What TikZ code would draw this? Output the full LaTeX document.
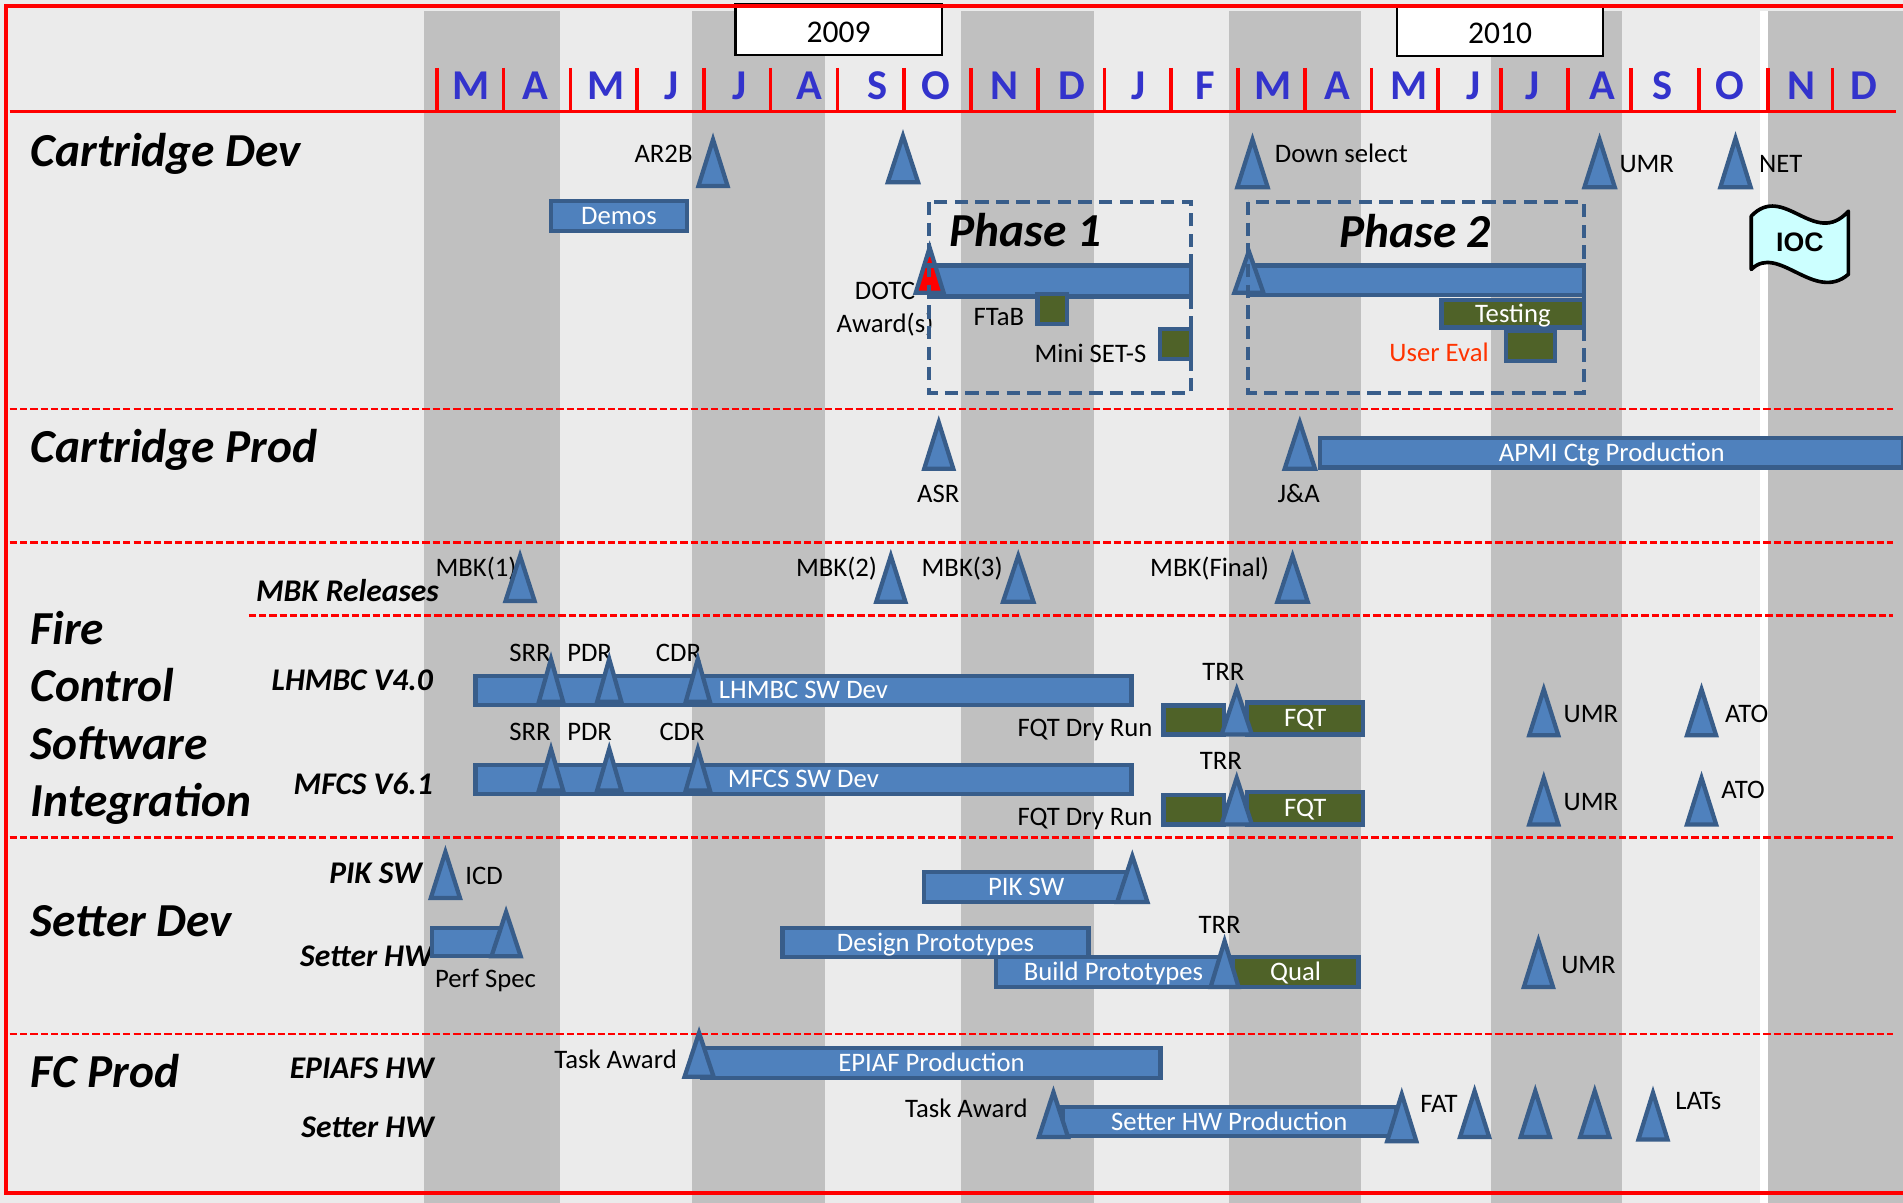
\documentclass[tikz,border=0pt]{standalone}
\usepackage{fontspec}
\setmainfont{Carlito}
\newfontfamily\arialf{Liberation Sans}
\definecolor{bgl}{HTML}{EBEBEB}
\definecolor{bgd}{HTML}{C0C0C0}
\definecolor{bfill}{HTML}{4F81BD}
\definecolor{bline}{HTML}{385D8A}
\definecolor{gfill}{HTML}{4F6228}
\definecolor{mblue}{HTML}{3333CC}
\definecolor{iocfill}{HTML}{CCFFFF}
\definecolor{ueval}{HTML}{FF3300}
\tikzset{
 bluebar/.style={draw=bline, fill=bfill, line width=1.75pt, text=white, font=\fontsize{11}{13}\selectfont, inner sep=0pt, rectangle, text height=7pt, text depth=0pt},
 greenbar/.style={bluebar, fill=gfill},
 tri/.style={draw=bline, fill=bfill, line width=1.75pt, line join=miter},
 lab/.style={inner sep=0pt, font=\fontsize{11}{13}\selectfont},
 rowlab/.style={inner sep=0pt, font=\fontsize{13}{15}\selectfont\bfseries\itshape},
 sect/.style={inner sep=0pt, anchor=base west, font=\fontsize{19.5}{23}\selectfont\bfseries\itshape},
 month/.style={inner sep=0pt, anchor=base, text=mblue, font=\fontsize{17.5}{20}\selectfont\bfseries},
 yearbox/.style={draw=black, fill=white, line width=1pt, inner sep=0pt},
 reddash/.style={red, line width=1pt, dash pattern=on 3pt off 1.25pt},
 phasebox/.style={draw=bline, line width=1.65pt, dash pattern=on 5.5pt off 3pt},
}
% bar node: [style]{name}{x1}{y1}{x2}{y2}{text}
\newcommand\gbar[7][bluebar]{%
 \node[#1, minimum width={(#5-#3-3.5)*0.5pt}, minimum height={(#6-#4-3.5)*0.5pt}] (#2) at ({(#3+#5)/2},{(#4+#6)/2}) {#7};}
% triangle: [style]{cx}{top}{bottom}{halfwidth}
\newcommand\mtri[5][tri]{%
 \draw[#1] ({#2-#5+2.5},{#4-1.75}) -- ({#2},{#3+5}) -- ({#2+#5-2.5},{#4-1.75}) -- cycle;}
\begin{document}
\begin{tikzpicture}[x=0.5pt,y=-0.5pt]
\useasboundingbox (0,0) rectangle (1568,991);
% background and bands
\fill[bgl] (0,0) rectangle (1568,991);
\foreach \a/\b in {349.6/461.8, 570/680, 792/901, 1013/1121, 1228.6/1336.6, 1457/1568}
  \fill[bgd] (\a,9) rectangle (\b,991);
\fill[white] (1450,9) rectangle (1457,991);
% year boxes
\node[yearbox, minimum width=85pt, minimum height=21pt] (box2009) at (691,24.5) {};
\node[yearbox, minimum width=85pt, minimum height=21pt] (box2010) at (1236,25) {};
\node[inner sep=0pt, anchor=base, font=\fontsize{13}{15}\selectfont] (t2009) at (691,35) {2009};
\node[inner sep=0pt, anchor=base, font=\fontsize{13}{15}\selectfont] (t2010) at (1236,36) {2010};
% red frame and lines
\draw[red, line width=2pt] (1568,5) -- (5,5) -- (5,983) -- (1568,983);
\draw[red, line width=1.5pt] (8,92) -- (1562,92);
\foreach \x in {360,415,470,525,580,635,690,745,800,855,910,965,1020,1075,1130,1185,1237,1292,1344,1400,1457,1510}
  \draw[red, line width=1.5pt] (\x,56) -- (\x,92);
\foreach \x/\l [count=\i] in {388/M,441/A,499/M,553/J,609/J,667/A,723/S,771/O,828/N,883/D,938/J,993/F,1049/M,1102/A,1161/M,1214/J,1263/J,1320/A,1370/S,1425/O,1484/N,1536/D}
  \node[month] (m\i) at (\x,82) {\l};
\draw[reddash] (8,337) -- (1560,337);
\draw[reddash] (8,447) -- (1560,447);
\draw[reddash] (205,507) -- (1560,507);
\draw[reddash] (8,690) -- (1560,690);
\draw[reddash] (8,852) -- (1560,852);
% section titles
\node[sect] (sCD) at (25,137) {Cartridge Dev};
\node[sect] (sCP) at (25,381) {Cartridge Prod};
\node[sect] (sF1) at (25,531) {Fire};
\node[sect] (sF2) at (25,578) {Control};
\node[sect] (sF3) at (25,626) {Software};
\node[sect] (sF4) at (25,673) {Integration};
\node[sect] (sSD) at (25,772) {Setter Dev};
\node[sect] (sFC) at (25,896) {FC Prod};
% row labels
\node[rowlab, anchor=base east] (rMBK) at (362,496) {MBK Releases};
\node[rowlab, anchor=base east] (rLH) at (357,569) {LHMBC V4.0};
\node[rowlab, anchor=base east] (rMF) at (357,655) {MFCS V6.1};
\node[rowlab, anchor=base east] (rPIK) at (348,728) {PIK SW};
\node[rowlab, anchor=base east] (rSHW) at (357,796) {Setter HW};
\node[rowlab, anchor=base east] (rEP) at (358,889) {EPIAFS HW};
\node[rowlab, anchor=base east] (rSHW2) at (358,937) {Setter HW};
% bars
\gbar{demos}{452}{164}{568}{192}{Demos}
\gbar{ph1bar}{764}{217}{983}{246}{}
\gbar{ph2bar}{1027}{217}{1307}{245}{}
\gbar[greenbar]{ftab}{853}{240.5}{881}{268.5}{}
\gbar[greenbar]{miniset}{954}{269.6}{983}{297.5}{}
\gbar[greenbar]{testing}{1186}{245.6}{1307}{271.5}{Testing}
\gbar[greenbar]{ueval}{1239}{271}{1283}{299}{}
\gbar{apmi}{1086}{359}{1570}{387}{APMI Ctg Production}
\gbar{lhmbc}{390}{555}{934}{582.6}{LHMBC SW Dev}
\gbar{mfcs}{390}{628.4}{934}{656}{MFCS SW Dev}
\gbar[greenbar]{dry1}{957}{579.5}{1010}{607}{}
\gbar[greenbar]{fqt1}{1026}{577}{1125}{607}{FQT}
\gbar[greenbar]{dry2}{957}{653}{1010}{681}{}
\gbar[greenbar]{fqt2}{1026}{651}{1125}{681}{FQT}
\gbar{piksw}{759.5}{717}{931.6}{745}{PIK SW}
\gbar{shw}{354}{762.8}{416}{789.6}{}
\gbar{design}{643}{762.8}{898.6}{790.5}{Design Prototypes}
\gbar{build}{819}{787}{1016}{815}{Build Prototypes}
\gbar[greenbar]{qual}{1014}{787}{1121}{815}{Qual}
\gbar{epiaf}{577}{862}{958}{890}{EPIAF Production}
\gbar{shwprod}{873.6}{910.6}{1152}{937.7}{Setter HW Production}
% labels
\node[lab, anchor=base east] (lAR2B) at (571,134) {AR2B};
\node[lab, anchor=base west] (lDown) at (1050,134) {Down select};
\node[lab, anchor=base west] (lUMRa) at (1334,142) {UMR};
\node[lab, anchor=base west] (lNET) at (1449,142) {NET};
\node[lab, anchor=base west] (lDOTC) at (704,247) {DOTC};
\node[lab, anchor=base west] (lAward) at (689,274) {Award(s)};
\node[lab, anchor=base] (lFTaB) at (823,268) {FTaB};
\node[lab, anchor=base east] (lMini) at (945,299) {Mini SET-S};
\node[lab, anchor=base east, text=ueval] (lUser) at (1227,298) {User Eval};
\node[lab, anchor=base] (lASR) at (773,414) {ASR};
\node[lab, anchor=base] (lJA) at (1070,414) {J\&A};
\node[lab, anchor=base east] (lMBK1) at (426,475) {MBK(1)};
\node[lab, anchor=base east] (lMBK2) at (723,475) {MBK(2)};
\node[lab, anchor=base west] (lMBK3) at (759,475) {MBK(3)};
\node[lab, anchor=base east] (lMBKF) at (1046,475) {MBK(Final)};
\node[lab, anchor=base east] (lSRR1) at (454,545) {SRR};
\node[lab, anchor=base west] (lPDR1) at (467,545) {PDR};
\node[lab, anchor=base west] (lCDR1) at (540,545) {CDR};
\node[lab, anchor=base east] (lSRR2) at (454,610) {SRR};
\node[lab, anchor=base west] (lPDR2) at (467,610) {PDR};
\node[lab, anchor=base west] (lCDR2) at (543,610) {CDR};
\node[lab, anchor=base] (lTRR1) at (1008,561) {TRR};
\node[lab, anchor=base] (lTRR2) at (1006,634) {TRR};
\node[lab, anchor=base east] (lDry1) at (950,607) {FQT Dry Run};
\node[lab, anchor=base east] (lDry2) at (950,680) {FQT Dry Run};
\node[lab, anchor=base west] (lUMR1) at (1288,595) {UMR};
\node[lab, anchor=base west] (lUMR2) at (1288,668) {UMR};
\begin{scope}
\clip (1400,540) rectangle (1457,690);
\node[lab, anchor=base west] (lATO1) at (1421,595) {ATO};
\node[lab, anchor=base west] (lATO2) at (1418,658) {ATO};
\end{scope}
\node[lab, anchor=base west] (lICD) at (383,729) {ICD};
\node[lab, anchor=base] (lPerf) at (400,814) {Perf Spec};
\node[lab, anchor=base] (lTRR3) at (1005,769) {TRR};
\node[lab, anchor=base west] (lUMR3) at (1286,802) {UMR};
\node[lab, anchor=base east] (lTask1) at (558,880) {Task Award};
\node[lab, anchor=base east] (lTask2) at (847,921) {Task Award};
\node[lab, anchor=base west] (lFAT) at (1170,917) {FAT};
\node[lab, anchor=base west] (lLATs) at (1380,914) {LATs};
% phase titles
\node[inner sep=0pt, anchor=base, font=\fontsize{19.5}{23}\selectfont\bfseries\itshape] (ph1) at (845,203) {Phase 1};
\node[inner sep=0pt, anchor=base, font=\fontsize{19.5}{23}\selectfont\bfseries\itshape] (ph2) at (1166,204) {Phase 2};
% milestones
\mtri{587.5}{110}{155}{14.5}
\mtri{744}{107}{152}{15}
\mtri[tri, fill=red]{766}{199}{243}{14}
\draw[bline, line width=1.75pt] (761.5,218.75) -- (770.5,218.75);
\mtri{1032}{110}{156}{15}
\mtri{1318}{110}{156}{15}
\mtri{1430}{109}{156}{15}
\mtri{1029}{202}{243}{14.5}
\mtri{773.5}{343}{388}{14.5}
\mtri{1071}{343}{388}{15}
\mtri{428.5}{453}{497}{14.5}
\mtri{734}{453}{497.5}{14.5}
\mtri{839}{453}{497.5}{15}
\mtri{1065}{453}{497.5}{15}
\foreach \x in {454,502,575} {
  \mtri{\x}{538}{580}{12.5}
  \mtri{\x}{612}{653}{12.5}
}
\mtri{1019}{563}{607}{15}
\mtri{1019}{636}{681}{15}
\mtri{1272}{563}{607.6}{14.5}
\mtri{1272}{636}{681}{14.5}
\mtri{1402}{563}{607.6}{14.5}
\mtri{1402}{636}{681}{14.5}
\mtri{367}{697}{741.6}{14.5}
\mtri{417}{746.5}{789.6}{14.5}
\mtri{933}{700.4}{745}{15}
\mtri{1009}{770.4}{815}{14}
\mtri{1267.6}{770}{815}{14.5}
\mtri{576}{846}{889}{14.5}
\mtri{868}{895}{938.6}{14.5}
\mtri{1155}{896.6}{942}{14.5}
\mtri{1215}{894}{938.6}{14.5}
\mtri{1265}{894}{938.6}{14.5}
\mtri{1314}{894}{938.6}{14.5}
\mtri{1362}{895.4}{940.7}{14.5}
% phase boxes
\draw[phasebox] (765.5,166.5) rectangle (981.5,323.5);
\draw[phasebox] (1028.5,166.5) rectangle (1305,323.5);
% IOC flag
\draw[black, line width=1.5pt, fill=iocfill, line join=round] (1443,178) .. controls (1470,150) and (1495,205) .. (1523,174) -- (1523,226) .. controls (1495,250) and (1465,200) .. (1443,222) -- cycle;
\node[inner sep=0pt, font={\arialf\fontsize{11}{13}\selectfont\bfseries}] (ioc) at (1483,200) {IOC};
\end{tikzpicture}
\end{document}
